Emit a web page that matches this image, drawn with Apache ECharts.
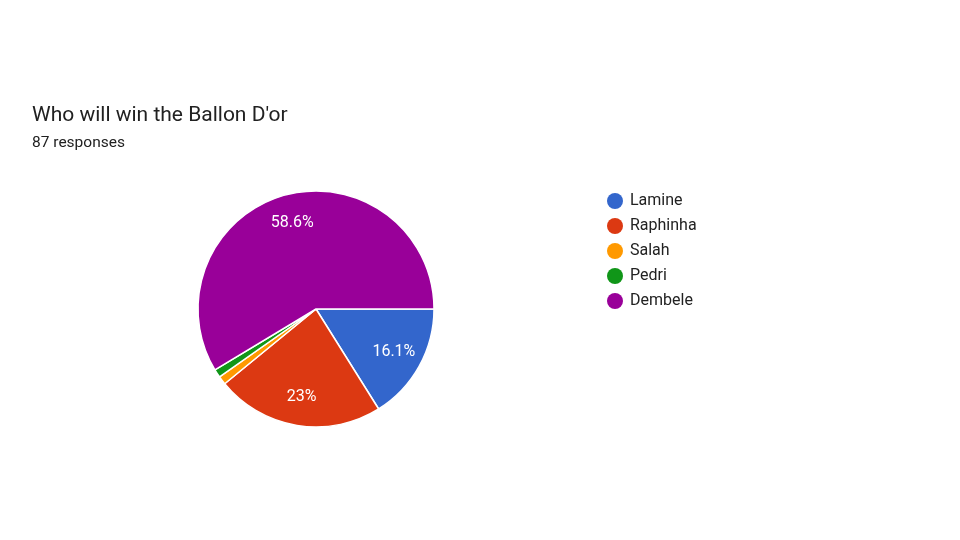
<!DOCTYPE html>
<html>
<head>
<meta charset="utf-8">
<script src="https://cdn.jsdelivr.net/npm/echarts@6/dist/echarts.min.js"></script>
<style>
  html, body { margin: 0; padding: 0; background: #fff; }
  #chart { width: 960px; height: 540px; }
</style>
</head>
<body>
<div id="chart"></div>
<script>
var names = ['Lamine', 'Raphinha', 'Salah', 'Pedri', 'Dembele'];
var counts = [14, 20, 1, 1, 51];
var colors = ['#3366cc', '#dc3912', '#ff9900', '#109618', '#990099'];
var totalResponses = 87;

var textStyle = {
    fontFamily: 'Roboto',
    color: '#212121'
};

var total = counts.reduce(function(a, b) { return a + b; }, 0);

function pct(v) {
    return Math.round(v / total * 1000) / 10 + '%';
}

var pieData = names.map(function(n, i) {
    return { name: n, value: counts[i], itemStyle: { color: colors[i] } };
});

// label-only data: same slices, transparent, bigger radius so labels sit further out
var labelData = names.map(function(n, i) {
    return {
        name: n,
        value: counts[i],
        itemStyle: { color: 'rgba(0,0,0,0)' },
        label: { show: counts[i] / total > 0.05 }
    };
});

var option = {
    textStyle: textStyle,
    title: [{
        text: "Who will win the Ballon D'or",
        left: 27,
        top: 100,
        textStyle: { fontFamily: 'Roboto', fontSize: 21, fontWeight: 'normal', color: '#212121' }
    }, {
        text: totalResponses + ' responses',
        left: 27,
        top: 130,
        textStyle: { fontFamily: 'Roboto', fontSize: 15.5, fontWeight: 'normal', color: '#212121' }
    }],
    legend: {
        orient: 'vertical',
        left: 602,
        top: 188,
        icon: 'circle',
        itemWidth: 16,
        itemHeight: 16,
        itemGap: 9,
        data: names,
        itemStyle: { borderWidth: 0 },
        textStyle: { fontFamily: 'Roboto', fontSize: 16, lineHeight: 16, color: '#222222', padding: [0, 0, 0, 2] }
    },
    series: [{
        name: 'votes',
        type: 'pie',
        center: [316, 309],
        radius: [0, 118],
        startAngle: 0,
        clockwise: true,
        avoidLabelOverlap: false,
        silent: true,
        itemStyle: { borderColor: '#ffffff', borderWidth: 1.5 },
        label: { show: false },
        labelLine: { show: false },
        data: pieData
    }, {
        name: 'labels',
        type: 'pie',
        center: [316, 309],
        radius: [0, 172],
        startAngle: 0,
        clockwise: true,
        silent: true,
        avoidLabelOverlap: false,
        legendHoverLink: false,
        z: 3,
        itemStyle: { borderWidth: 0 },
        label: {
            position: 'inside',
            color: '#ffffff',
            fontFamily: 'Roboto',
            fontSize: 16,
            formatter: function(p) { return pct(p.value); }
        },
        labelLine: { show: false },
        data: labelData
    }]
};

var chart = echarts.init(document.getElementById('chart'));
chart.setOption(option);
</script>
</body>
</html>
